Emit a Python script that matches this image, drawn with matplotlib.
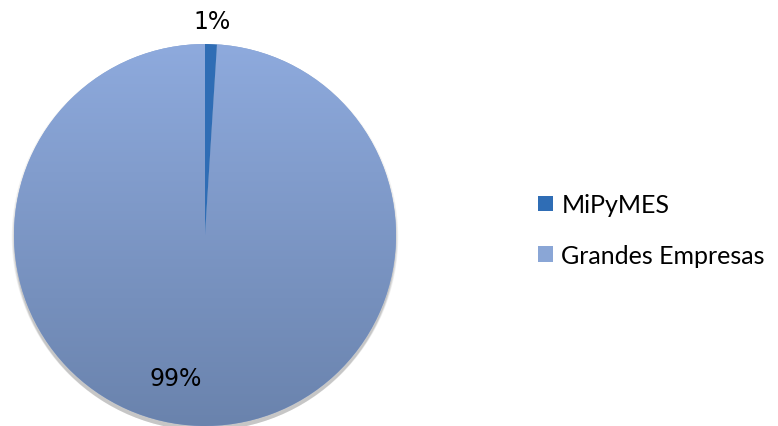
import numpy as np
import matplotlib
matplotlib.use("Agg")
import matplotlib.pyplot as plt
from matplotlib.patches import Circle, Patch

labels = ["MiPyMES", "Grandes Empresas"]
values = [1, 99]
colors = ["#2f6db5", "#8aa6d6"]

W, H = 778, 427
fig = plt.figure(figsize=(W / 100, H / 100), dpi=100)

# pie centre ~ (205, 236) px, radius ~ 191 px
cx, cy, r = 205, 236, 191
ax = fig.add_axes([(cx - r) / W, (H - cy - r) / H, 2 * r / W, 2 * r / H])
ax.set_xlim(-1, 1)
ax.set_ylim(-1, 1)
ax.set_aspect("equal")
ax.axis("off")

# soft shadow below
for i, a in enumerate([0.05, 0.05, 0.06, 0.08]):
    ax.add_patch(Circle((0, -0.012 - 0.004 * i), 1.0 + 0.004 * (3 - i),
                        color="black", alpha=a, lw=0, zorder=0, clip_on=False))

wedges, _ = ax.pie(values, colors=colors, startangle=90, counterclock=False,
                   radius=1.0, wedgeprops=dict(linewidth=0))
for w in wedges:
    w.set_zorder(2)

# vertical gradient on the large slice
big = wedges[1]
grad = np.linspace(0, 1, 256).reshape(-1, 1)
top = np.array(matplotlib.colors.to_rgb("#8eaadd"))
bot = np.array(matplotlib.colors.to_rgb("#6a83ad"))
img = top + (bot - top) * grad[..., None]
im = ax.imshow(img, extent=(-1, 1, -1, 1), origin="upper", zorder=3,
               aspect="auto", interpolation="bilinear")
im.set_clip_path(big)
wedges[0].set_zorder(4)

ax.set_xlim(-1, 1)
ax.set_ylim(-1, 1)

# percentage labels
fig.text(212 / W, 1 - 22 / H, "1%", ha="center", va="center", fontsize=17)
fig.text(176 / W, 1 - 379 / H, "99%", ha="center", va="center", fontsize=17)

handles = [Patch(facecolor=colors[0]), Patch(facecolor=colors[1])]
fig.legend(handles, labels, loc="center left", bbox_to_anchor=(515 / W, 1 - 231 / H),
           frameon=False, prop=dict(family="Lato", size=18), handlelength=0.6,
           handleheight=0.6, handletextpad=0.35, labelspacing=1.1)

fig.savefig("out.png", dpi=100)
